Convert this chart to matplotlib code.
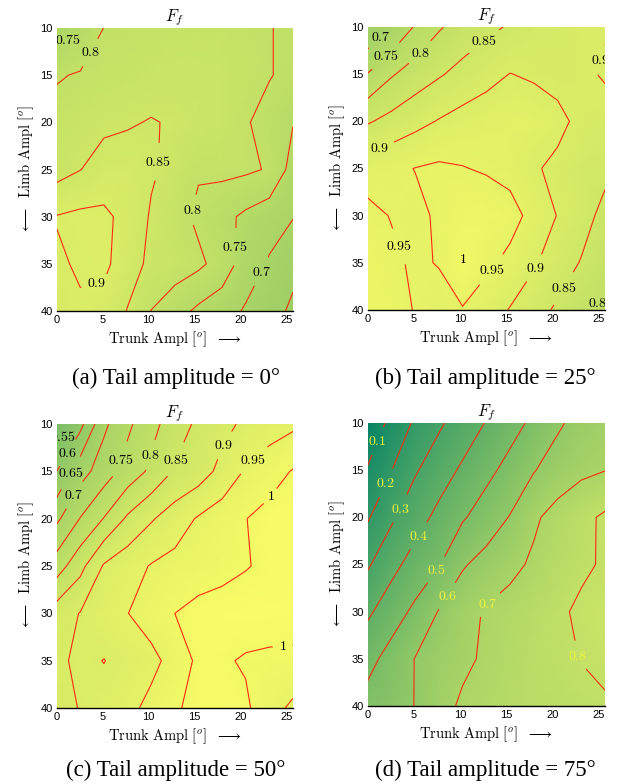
import matplotlib
matplotlib.use("Agg")
import matplotlib.pyplot as plt
import numpy as np

plt.rcParams["mathtext.fontset"] = "cm"
plt.rcParams["font.family"] = ["Liberation Sans", "DejaVu Sans"]

# --- sampled grid (degrees) ---
TRUNK = [0, 2.57, 5.14, 7.71, 10.28, 12.85, 15.42, 17.99, 20.56, 23.13, 25.7]
LIMB = [10, 15, 20, 25, 30, 35, 40]

# F_f for each tail amplitude, rows = limb ampl, cols = trunk ampl
FF_TAIL0 = [
    [0.71, 0.748, 0.801, 0.81, 0.812, 0.815, 0.818, 0.818, 0.812, 0.802, 0.79],
    [0.795, 0.805, 0.815, 0.82, 0.825, 0.83, 0.83, 0.825, 0.815, 0.803, 0.785],
    [0.82, 0.83, 0.84, 0.845, 0.853, 0.845, 0.835, 0.825, 0.805, 0.78, 0.752],
    [0.83, 0.849, 0.87, 0.875, 0.856, 0.835, 0.805, 0.812, 0.808, 0.796, 0.73],
    [0.902, 0.91, 0.91, 0.885, 0.845, 0.82, 0.79, 0.765, 0.74, 0.72, 0.702],
    [0.894, 0.905, 0.912, 0.87, 0.84, 0.825, 0.81, 0.78, 0.725, 0.695, 0.665],
    [0.88, 0.895, 0.88, 0.848, 0.799, 0.77, 0.74, 0.72, 0.695, 0.672, 0.64],
]
FF_TAIL25 = [
    [0.655, 0.70, 0.755, 0.795, 0.82, 0.838, 0.855, 0.87, 0.88, 0.888, 0.897],
    [0.752, 0.795, 0.823, 0.845, 0.865, 0.885, 0.901, 0.893, 0.885, 0.89, 0.905],
    [0.845, 0.865, 0.885, 0.903, 0.918, 0.925, 0.93, 0.93, 0.912, 0.888, 0.88],
    [0.93, 0.94, 0.951, 0.958, 0.952, 0.945, 0.935, 0.905, 0.89, 0.872, 0.862],
    [0.962, 0.948, 0.94, 0.956, 0.975, 0.98, 0.967, 0.935, 0.898, 0.87, 0.835],
    [0.972, 0.958, 0.944, 0.952, 1.002, 0.96, 0.938, 0.906, 0.875, 0.847, 0.815],
    [0.975, 0.965, 0.948, 0.935, 0.9455, 0.925, 0.897, 0.87, 0.842, 0.81, 0.79],
]
FF_TAIL50 = [
    [0.505, 0.585, 0.69, 0.74, 0.785, 0.825, 0.86, 0.885, 0.91, 0.925, 0.94],
    [0.60, 0.68, 0.725, 0.77, 0.81, 0.855, 0.875, 0.915, 0.955, 0.98, 1.003],
    [0.69, 0.752, 0.802, 0.858, 0.895, 0.925, 0.955, 0.975, 0.999, 1.015, 1.02],
    [0.775, 0.835, 0.905, 0.93, 0.953, 0.965, 0.975, 0.985, 0.997, 1.01, 1.015],
    [0.875, 0.902, 0.925, 0.949, 0.975, 1.0, 1.015, 1.02, 1.025, 1.025, 1.02],
    [0.89, 0.91, 0.899, 0.915, 0.935, 0.97, 1.01, 1.006, 0.995, 0.99, 0.99],
    [0.885, 0.902, 0.915, 0.935, 0.965, 0.995, 1.012, 1.01, 1.008, 0.97, 0.94],
]
FF_TAIL75 = [
    [0.03, 0.125, 0.215, 0.285, 0.345, 0.405, 0.465, 0.52, 0.585, 0.635, 0.665],
    [0.108, 0.198, 0.29, 0.355, 0.415, 0.475, 0.53, 0.595, 0.645, 0.68, 0.698],
    [0.19, 0.285, 0.36, 0.425, 0.49, 0.545, 0.605, 0.685, 0.735, 0.775, 0.815],
    [0.288, 0.37, 0.44, 0.493, 0.59, 0.635, 0.675, 0.715, 0.755, 0.785, 0.81],
    [0.383, 0.455, 0.52, 0.605, 0.665, 0.71, 0.735, 0.76, 0.785, 0.815, 0.83],
    [0.47, 0.535, 0.603, 0.645, 0.68, 0.715, 0.745, 0.77, 0.785, 0.802, 0.82],
    [0.535, 0.565, 0.602, 0.665, 0.715, 0.735, 0.75, 0.765, 0.775, 0.782, 0.79],
]

TAIL_AMPL = [0, 25, 50, 75]
PANEL_TAGS = ["(a)", "(b)", "(c)", "(d)"]

LEVELS_0 = [0.65, 0.7, 0.75, 0.8, 0.85, 0.9]
LEVELS_25 = [0.7, 0.75, 0.8, 0.85, 0.9, 0.95, 1.0]
LEVELS_50 = [0.55, 0.6, 0.65, 0.7, 0.75, 0.8, 0.85, 0.9, 0.95, 1.0]
LEVELS_75 = [0.1, 0.2, 0.3, 0.4, 0.5, 0.6, 0.7, 0.8]

# where the inline labels sit (layout only)
LABEL_AT_0 = [(1.2, 11.3), (2.9, 12.2), (11.1, 24.2), (14.4, 29.2),
              (19.1, 33.2), (21.8, 35.6), (4.7, 38.5)]
LABEL_AT_25 = [(1.1, 10.8), (1.9, 13.0), (5.9, 12.9), (12.1, 10.9),
               (24.8, 13.4), (1.2, 22.6), (3.0, 33.4), (10.25, 34.6),
               (13.5, 35.8), (17.8, 35.4), (21.0, 37.6), (24.4, 38.9)]
LABEL_AT_50 = [(0.6, 11.3), (1.3, 13.1), (1.6, 15.2), (2.1, 17.6),
               (7.1, 13.8), (10.0, 13.2), (12.6, 13.6), (19.0, 12.7),
               (21.4, 13.8), (22.8, 17.3), (24.6, 33.7)]
LABEL_AT_75 = [(0.8, 11.8), (2.1, 16.4), (3.6, 19.1), (4.9, 21.6),
               (6.5, 24.9), (8.2, 28.1), (12.8, 28.9), (22.2, 34.8)]

panels = [
    (FF_TAIL0, LEVELS_0, LABEL_AT_0, "k"),
    (FF_TAIL25, LEVELS_25, LABEL_AT_25, "k"),
    (FF_TAIL50, LEVELS_50, LABEL_AT_50, "k"),
    (FF_TAIL75, LEVELS_75, LABEL_AT_75, "#f4f43a"),
]

# axes boxes in figure fractions: left, bottom, width, height
boxes = [
    [0.0917, 0.6033, 0.3823, 0.3610],
    [0.5950, 0.6046, 0.3840, 0.3610],
    [0.0917, 0.0969, 0.3823, 0.3623],
    [0.5950, 0.0995, 0.3840, 0.3610],
]
caption_xy = [(0.285, 0.5179), (0.785, 0.5179), (0.285, 0.0179), (0.785, 0.0179)]

fig = plt.figure(figsize=(6.18, 7.84), dpi=100)
X, Y = np.meshgrid(TRUNK, LIMB)

for i, (vals, levels, label_at, lab_col) in enumerate(panels):
    ax = fig.add_axes(boxes[i])
    Z = np.array(vals)
    ax.pcolormesh(X, Y, Z, shading="gouraud", cmap="summer", vmin=0, vmax=1.05)
    cs = ax.contour(X, Y, Z, levels=levels, colors="#ff2a10", linewidths=0.8)
    txts = ax.clabel(cs, manual=label_at, inline=True, inline_spacing=6,
                     fontsize=10, colors=lab_col, fmt=lambda v: "$%g$" % v)
    for t in txts:
        t.set_rotation(0)

    ax.set_xlim(0, 25.7)
    ax.set_ylim(40, 10)
    ax.set_xticks([0, 5, 10, 15, 20, 25])
    ax.set_yticks([10, 15, 20, 25, 30, 35, 40])
    ax.tick_params(length=0, labelsize=8, pad=3)
    for s in ["top", "right", "left"]:
        ax.spines[s].set_visible(False)
    ax.spines["bottom"].set_linewidth(1.0)

    ax.set_title(r"$F_f$", fontsize=12, pad=4)
    ax.set_xlabel(r"$\mathrm{Trunk\ Ampl}\ [^o]\ \ \longrightarrow$", fontsize=10.5, labelpad=3)
    ax.set_ylabel(r"$\longleftarrow\ \ \mathrm{Limb\ Ampl}\ [^o]$", fontsize=10.5, labelpad=3)

    fig.text(caption_xy[i][0], caption_xy[i][1],
             "%s Tail amplitude = %d\u00b0" % (PANEL_TAGS[i], TAIL_AMPL[i]),
             ha="center", va="center", fontsize=16.5, family="Liberation Serif")

fig.savefig("out.png", dpi=100)
